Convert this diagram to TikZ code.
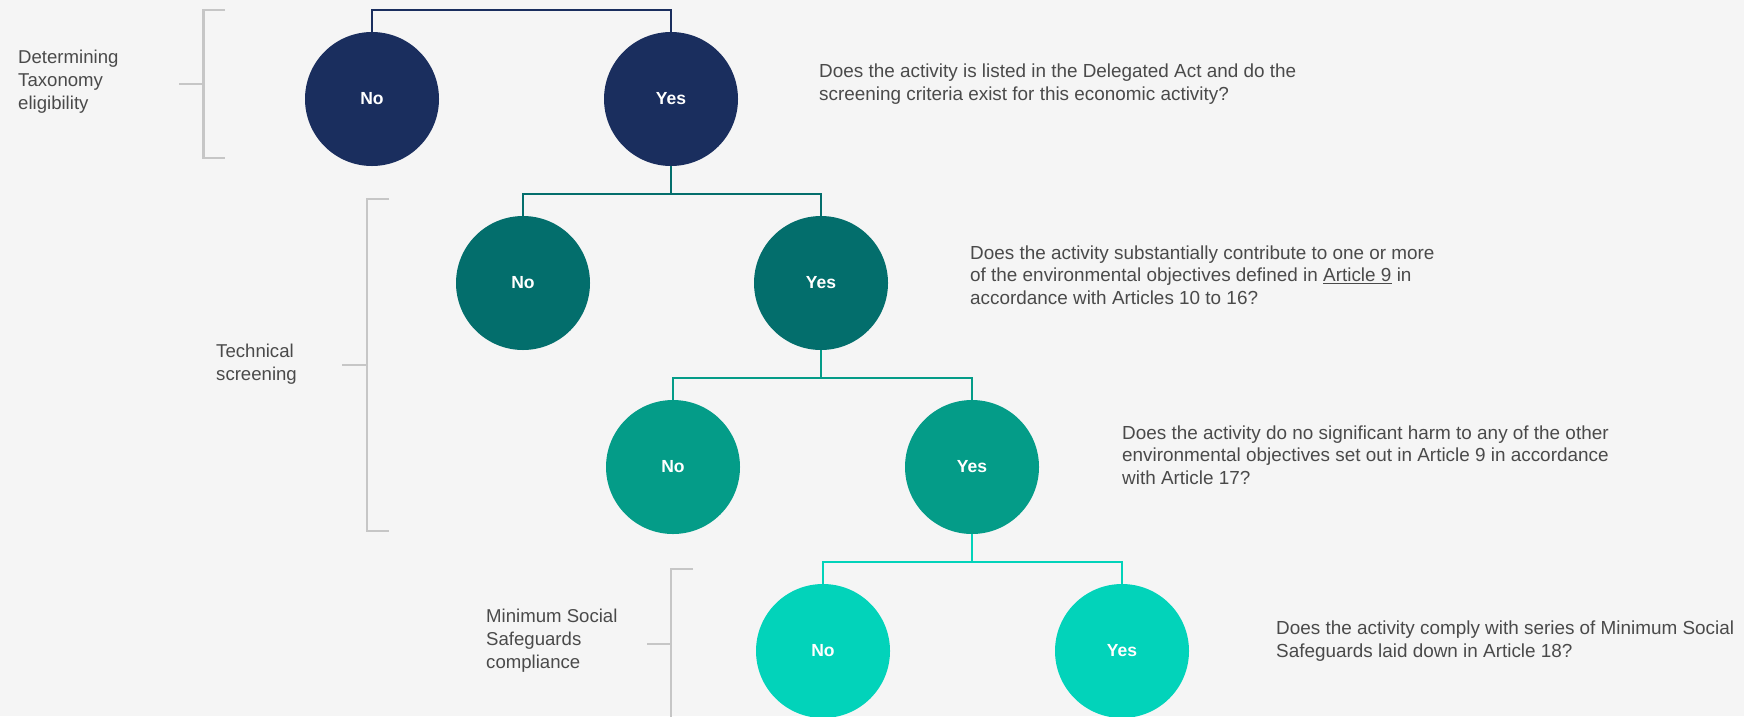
\documentclass[tikz,border=0pt]{standalone}
\usepackage{fontspec}
\setmainfont{Liberation Sans}
\definecolor{bgcol}{HTML}{F5F5F5}
\definecolor{navy}{HTML}{1A2E5E}
\definecolor{tealdark}{HTML}{036E6C}
\definecolor{tealmid}{HTML}{049C88}
\definecolor{teallight}{HTML}{02D3BA}
\definecolor{bracketgray}{HTML}{C6C6C6}
\definecolor{textgray}{HTML}{4A4A4A}

\begin{document}
\begin{tikzpicture}[x=1pt,y=-1pt,
    answer/.style={circle,minimum size=134pt,inner sep=0pt,text=white,
      font=\fontsize{17.5}{22}\selectfont\bfseries},
    question/.style={anchor=west,align=left,inner sep=0pt,text=textgray,
      font=\fontsize{18.9}{22.5}\selectfont},
    stage/.style={anchor=west,align=left,inner sep=0pt,text=textgray,
      font=\fontsize{18.6}{23}\selectfont},
    branch/.style={line width=2pt},
    bracket/.style={bracketgray,line width=2.2pt}]
  \path[use as bounding box,fill=bgcol] (0,0) rectangle (1744,716);

  % answers, one row per step
  \node[answer,fill=navy] (no1) at (372,99) {No};
  \node[answer,fill=navy] (yes1) at (671,99) {Yes};
  \node[answer,fill=tealdark] (no2) at (523,283) {No};
  \node[answer,fill=tealdark] (yes2) at (821,283) {Yes};
  \node[answer,fill=tealmid] (no3) at (673,467) {No};
  \node[answer,fill=tealmid] (yes3) at (972,467) {Yes};
  \node[answer,fill=teallight] (no4) at (823,651) {No};
  \node[answer,fill=teallight] (yes4) at (1122,651) {Yes};

  % branches
  \coordinate (top) at (521,10);
  \draw[branch,navy] (no1.north) |- (top) -| (yes1.north);
  \coordinate (j2) at ([yshift=-28pt]yes1.south);
  \draw[branch,tealdark] (yes1.south) -- (j2);
  \draw[branch,tealdark] (no2.north) |- (j2) -| (yes2.north);
  \coordinate (j3) at ([yshift=-28pt]yes2.south);
  \draw[branch,tealmid] (yes2.south) -- (j3);
  \draw[branch,tealmid] (no3.north) |- (j3) -| (yes3.north);
  \coordinate (j4) at ([yshift=-28pt]yes3.south);
  \draw[branch,teallight] (yes3.south) -- (j4);
  \draw[branch,teallight] (no4.north) |- (j4) -| (yes4.north);

  % questions
  \node[question] (q1) at (819,84) {Does the activity is listed in the Delegated Act and do the\\
    screening criteria exist for this economic activity?};
  \node[question] (q2) at (970,275) {Does the activity substantially contribute to one or more\\
    of the environmental objectives defined in \underline{Article 9} in\\
    accordance with Articles 10 to 16?};
  \node[question] (q3) at (1122,455) {Does the activity do no significant harm to any of the other\\
    environmental objectives set out in Article 9 in accordance\\
    with Article 17?};
  \node[question] (q4) at (1276,641) {Does the activity comply with series of Minimum Social\\
    Safeguards laid down in Article 18?};

  % stages
  \draw[bracket] (225,10) -- (203.5,10) -- (203.5,158) -- (225,158);
  \draw[bracket] (179,84) -- (203.5,84);
  \node[stage] (elig) at (18,82) {Determining\\Taxonomy\\eligibility};
  \draw[bracket] (389,199) -- (367,199) -- (367,531) -- (389,531);
  \draw[bracket] (342,365) -- (367,365);
  \node[stage] (tech) at (216,364) {Technical\\screening};
  \draw[bracket] (693,569) -- (671,569) -- (671,730);
  \draw[bracket] (647,644) -- (671,644);
  \node[stage] (mss) at (486,641) {Minimum Social\\Safeguards\\compliance};
\end{tikzpicture}
\end{document}
